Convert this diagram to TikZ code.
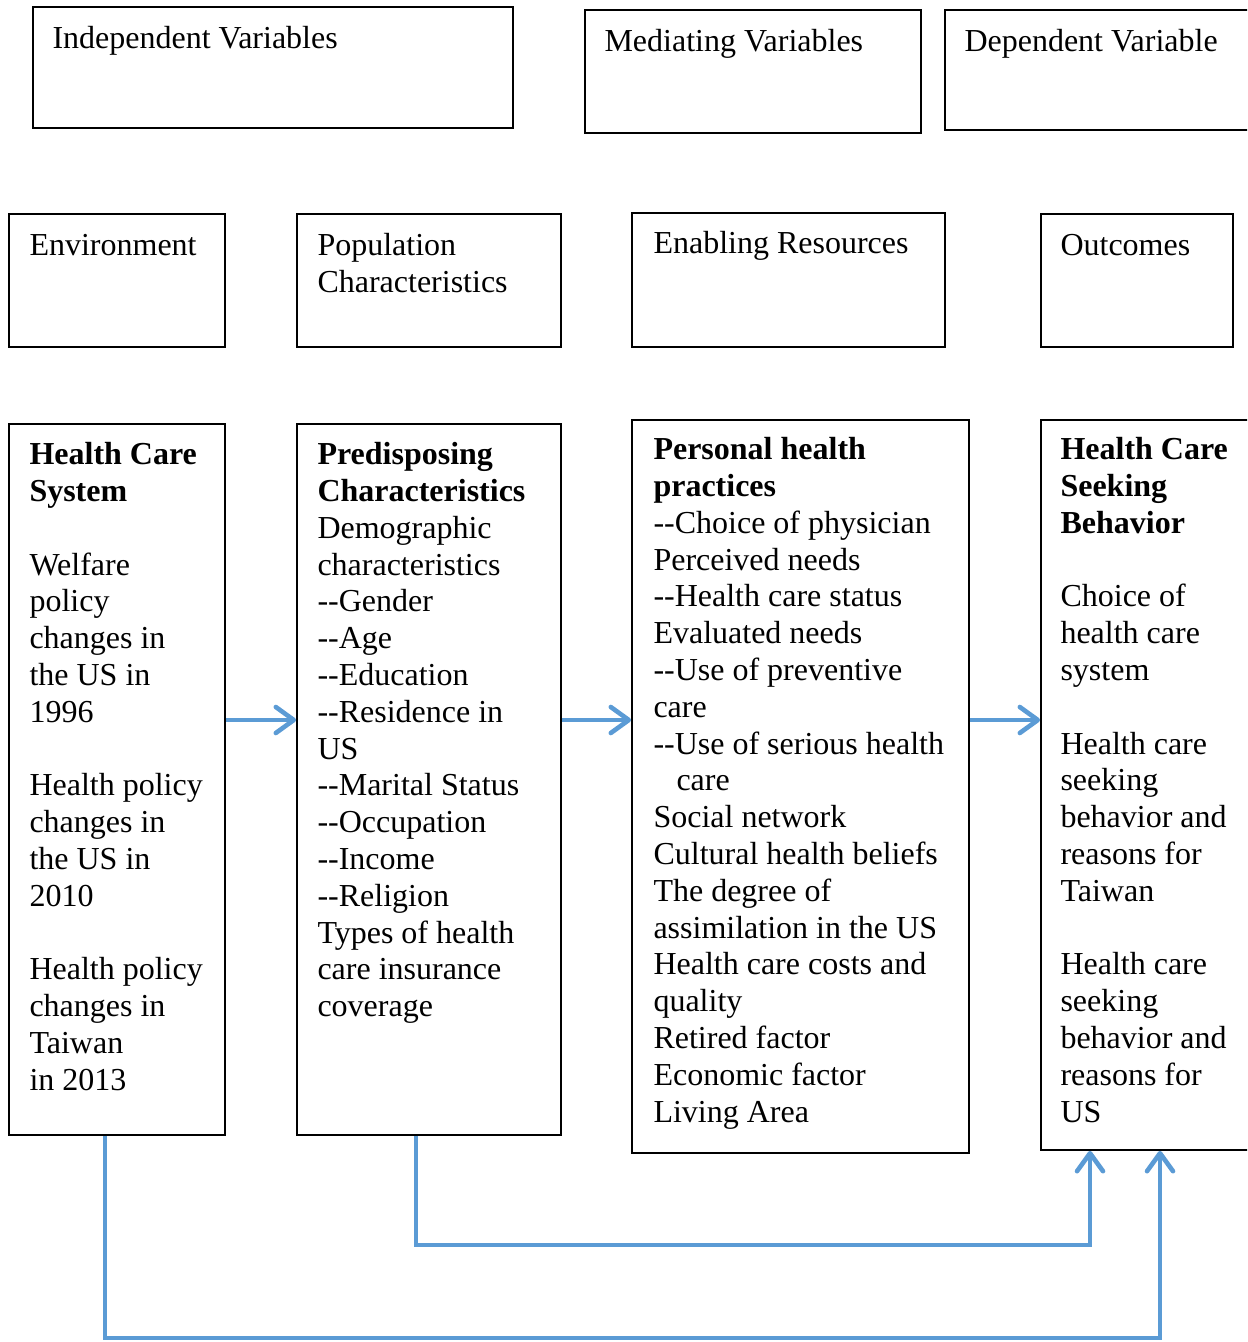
\documentclass[tikz,border=0pt]{standalone}
\usepackage{fontspec}
\setmainfont{Liberation Serif}
\usetikzlibrary{arrows.meta,fit}
\definecolor{linkblue}{RGB}{91,155,213}
\newcommand{\dd}{-{}-}

\begin{document}
\begin{tikzpicture}[x=0.5pt,y=-0.5pt,
  box/.style={draw,line width=0.9pt,inner sep=0pt},
  txt/.style={anchor=north west,inner sep=0pt,align=left,font=\fontsize{16pt}{18.4pt}\selectfont},
  link/.style={draw=linkblue,line width=2.3pt},
  arr/.style={link,-{Straight Barb[length=9pt,width=13pt,round]}}]
\useasboundingbox (0,0) rectangle (1247,1342);
\clip (0,0) rectangle (1247,1342);
% heading boxes
\node[box,fit={(33,7) (513,128)}] (iv) {};
\node[box,fit={(585,10) (921,133)}] (mv) {};
\node[box,fit={(945,10) (1260,130)}] (dv) {};
\node[txt] (ivt) at ([xshift=10pt,yshift=-10pt]iv.north west) {Independent Variables};
\node[txt] (mvt) at ([xshift=10pt,yshift=-10pt]mv.north west) {Mediating Variables};
\node[txt] (dvt) at ([xshift=10pt,yshift=-10pt]dv.north west) {Dependent Variable};
% second row
\node[box,fit={(9,214) (225,347)}] (env) {};
\node[box,fit={(297,214) (561,347)}] (pop) {};
\node[box,fit={(632,213) (945,347)}] (enr) {};
\node[box,fit={(1041,214) (1233,347)}] (out) {};
\node[txt] (envt) at ([xshift=10.5pt,yshift=-10.5pt]env.north west) {Environment};
\node[txt] (popt) at ([xshift=10.5pt,yshift=-10pt]pop.north west) {Population\\Characteristics};
\node[txt] (enrt) at ([xshift=11pt,yshift=-9.5pt]enr.north west) {Enabling Resources};
\node[txt] (outt) at ([xshift=10pt,yshift=-10.5pt]out.north west) {Outcomes};
% main boxes
\node[box,fit={(9,424) (225,1135)}] (hcs) {};
\node[box,fit={(297,424) (561,1135)}] (pc) {};
\node[box,fit={(632,420) (969,1153)}] (php) {};
\node[box,fit={(1041,420) (1260,1150)}] (sb) {};
\node[txt] (hcst) at ([xshift=10.5pt,yshift=-9.5pt]hcs.north west) {\textbf{Health Care}\\\textbf{System}\\\mbox{}\\Welfare\\policy\\changes in\\the US in\\1996\\\mbox{}\\Health policy\\changes in\\the US in\\2010\\\mbox{}\\Health policy\\changes in\\Taiwan\\in 2013};
\node[txt] (pct) at ([xshift=10.5pt,yshift=-9.5pt]pc.north west) {\textbf{Predisposing}\\\textbf{Characteristics}\\Demographic\\characteristics\\\dd Gender\\\dd Age\\\dd Education\\\dd Residence in\\US\\\dd Marital Status\\\dd Occupation\\\dd Income\\\dd Religion\\Types of health\\care insurance\\coverage};
\node[txt] (phpt) at ([xshift=11pt,yshift=-9pt]php.north west) {\textbf{Personal health}\\\textbf{practices}\\\dd Choice of physician\\Perceived needs\\\dd Health care status\\Evaluated needs\\\dd Use of preventive\\care\\\dd Use of serious health\\\hspace{11.5pt}care\\Social network\\Cultural health beliefs\\The degree of\\assimilation in the US\\Health care costs and\\quality\\Retired factor\\Economic factor\\Living Area};
\node[txt] (sbt) at ([xshift=10pt,yshift=-9pt]sb.north west) {\textbf{Health Care}\\\textbf{Seeking}\\\textbf{Behavior}\\\mbox{}\\Choice of\\health care\\system\\\mbox{}\\Health care\\seeking\\behavior and\\reasons for\\Taiwan\\\mbox{}\\Health care\\seeking\\behavior and\\reasons for\\US};
% connectors
\coordinate (mid) at (0,720);
\coordinate (low1) at (0,1338);
\coordinate (low2) at (0,1245);
\coordinate (hcsfoot) at ([xshift=-6pt]hcs.south);
\coordinate (pcfoot) at ([xshift=-6.5pt]pc.south);
\coordinate (sbin1) at ([xshift=-30.25pt]sb.south);
\coordinate (sbin2) at ([xshift=4.75pt]sb.south);
\draw[arr] (hcs.east |- mid) -- (pc.west |- mid);
\draw[arr] (pc.east |- mid) -- (php.west |- mid);
\draw[arr] (php.east |- mid) -- (sb.west |- mid);
\draw[arr] (pcfoot) -- (pcfoot |- low2) -| (sbin1);
\draw[arr] (hcsfoot) -- (hcsfoot |- low1) -| (sbin2);
\end{tikzpicture}
\end{document}
